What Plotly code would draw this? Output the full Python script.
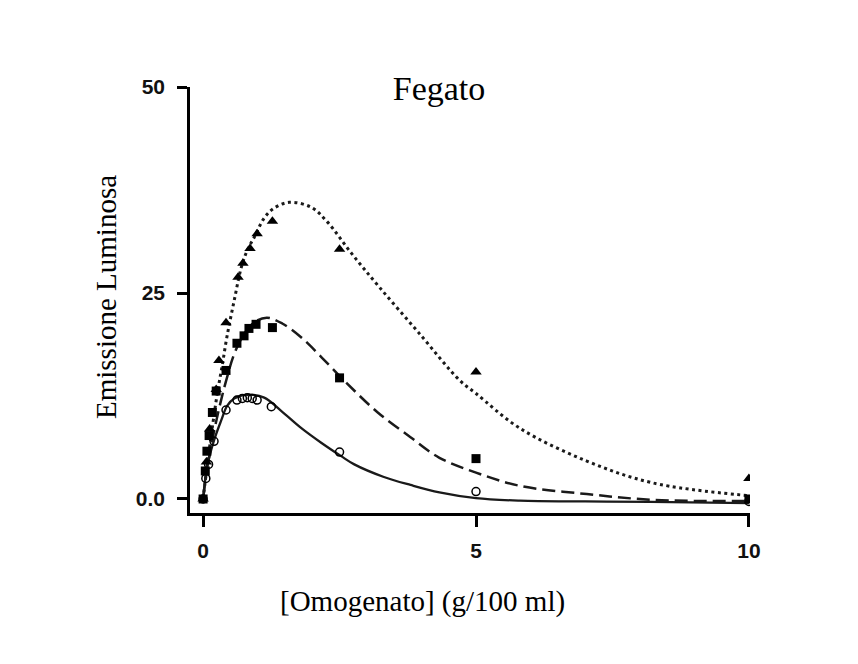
import plotly.graph_objects as go

# Fitted response curves (concentration in g/100 ml, light emission)
dot_x = [0, 0.07, 0.15, 0.26, 0.35, 0.44, 0.57, 0.7, 0.81, 0.94, 1.12, 1.3, 1.58,
         1.98, 2.28, 2.72, 3.23, 3.96, 4.7, 5.0, 5.8, 7.03, 8.24, 10.0]
dot_y = [0, 3.8, 7.8, 12.8, 16.2, 19.8, 24.1, 28.1, 30.2, 31.8, 34.1, 35.3, 36.0,
         35.4, 33.6, 29.8, 25.7, 20.1, 14.4, 12.8, 8.6, 4.6, 1.95, 0.4]

dash_x = [0, 0.07, 0.2, 0.33, 0.44, 0.57, 0.75, 0.95, 1.17, 1.45, 1.8, 2.17, 2.64,
          3.2, 3.8, 4.33, 5.0, 5.8, 7.03, 8.24, 10.0]
dash_y = [0, 3.5, 8.2, 12.0, 14.8, 17.6, 20.0, 21.5, 22.0, 21.3, 19.6, 17.2, 14.0,
          10.5, 7.5, 5.0, 3.2, 1.6, 0.6, -0.1, -0.25]

solid_x = [0, 0.07, 0.2, 0.33, 0.44, 0.57, 0.81, 1.12, 1.43, 1.8, 2.17, 2.53, 2.77,
           3.3, 3.8, 4.33, 5.0, 5.8, 7.0, 8.2, 10.0]
solid_y = [0, 3.8, 7.1, 9.5, 11.3, 12.2, 12.65, 12.3, 10.7, 8.6, 6.8, 5.2, 4.2,
           2.7, 1.7, 0.8, 0.1, -0.2, -0.3, -0.35, -0.5]

# Measured points
tri_x = [0, 0.06, 0.12, 0.24, 0.29, 0.42, 0.64, 0.73, 0.86, 0.99, 1.27, 2.5, 5, 10]
tri_y = [0, 4.5, 8.5, 13.3, 16.8, 21.4, 26.9, 28.6, 30.4, 32.2, 33.7, 30.3, 15.4, 2.5]

sq_x = [0, 0.04, 0.07, 0.11, 0.17, 0.24, 0.42, 0.62, 0.75, 0.84, 0.97, 1.27, 2.5, 5, 10]
sq_y = [0, 3.4, 5.8, 7.7, 10.5, 13.1, 15.6, 18.9, 19.8, 20.7, 21.2, 20.8, 14.7, 4.9, 0]

circ_x = [0, 0.05, 0.1, 0.2, 0.42, 0.62, 0.72, 0.81, 0.9, 0.99, 1.25, 2.5, 5, 10]
circ_y = [0, 2.5, 4.2, 7.0, 10.8, 12.0, 12.2, 12.3, 12.2, 12.0, 11.2, 5.7, 0.9, -0.3]

x_ticks = [0, 5, 10]
x_tick_text = ["0", "5", "10"]
y_ticks = [0, 25, 50]
y_tick_text = ["0.0", "25", "50"]

SERIF = "Liberation Serif, Times New Roman, serif"
SANS = "Liberation Sans, Arial, sans-serif"

fig = go.Figure()

fig.add_trace(go.Scatter(x=dot_x, y=dot_y, mode="lines", line_shape="spline",
                         line=dict(color="#1a1a1a", width=3.0, dash="3px,3.5px"),
                         showlegend=False, hoverinfo="skip"))
fig.add_trace(go.Scatter(x=dash_x, y=dash_y, mode="lines", line_shape="spline",
                         line=dict(color="#1a1a1a", width=2.5, dash="13px,6px"),
                         showlegend=False, hoverinfo="skip"))
fig.add_trace(go.Scatter(x=solid_x, y=solid_y, mode="lines", line_shape="spline",
                         line=dict(color="#1a1a1a", width=2.3),
                         showlegend=False, hoverinfo="skip"))

fig.add_trace(go.Scatter(x=tri_x, y=tri_y, mode="markers",
                         marker=dict(symbol="triangle-up", size=10, color="black"),
                         showlegend=False))
fig.add_trace(go.Scatter(x=sq_x, y=sq_y, mode="markers",
                         marker=dict(symbol="square", size=9, color="black"),
                         showlegend=False))
fig.add_trace(go.Scatter(x=circ_x, y=circ_y, mode="markers",
                         marker=dict(symbol="circle-open", size=8, color="black",
                                     line=dict(width=1.5)),
                         showlegend=False))

fig.update_layout(
    width=858, height=664,
    margin=dict(l=190, r=108, t=87, b=151),
    paper_bgcolor="white", plot_bgcolor="white",
    title=dict(text="Fegato", x=439 / 858, xanchor="center",
               y=1 - 88 / 664, yanchor="middle",
               font=dict(family=SERIF, size=34, color="black")),
    annotations=[
        dict(text="Emissione Luminosa", xref="paper", yref="paper",
             x=-(190 - 106) / 560, y=(513 - 297) / 426, textangle=-90,
             xanchor="center", yanchor="middle", showarrow=False,
             font=dict(family=SERIF, size=29, color="black")),
        dict(text="[Omogenato] (g/100 ml)", xref="paper", yref="paper",
             x=(422 - 190) / 560, y=-(601 - 513) / 426,
             xanchor="center", yanchor="middle", showarrow=False,
             font=dict(family=SERIF, size=29, color="black")),
    ],
)

fig.update_xaxes(range=[-0.24, 10.02], tickvals=x_ticks, ticktext=x_tick_text,
                 showgrid=False, zeroline=False, showline=True, linecolor="black",
                 linewidth=2.5, ticks="outside", ticklen=11, tickwidth=2.5,
                 tickcolor="black", ticklabelstandoff=6,
                 tickfont=dict(family=SANS, size=21, color="#111", weight="bold"))
fig.update_yaxes(range=[-1.7, 50.0], tickvals=y_ticks, ticktext=y_tick_text,
                 showgrid=False, zeroline=False, showline=True, linecolor="black",
                 linewidth=2.5, ticks="outside", ticklen=10, tickwidth=2.5,
                 tickcolor="black", ticklabelstandoff=8,
                 tickfont=dict(family=SANS, size=21, color="#111", weight="bold"))

fig.write_html("out.html")
